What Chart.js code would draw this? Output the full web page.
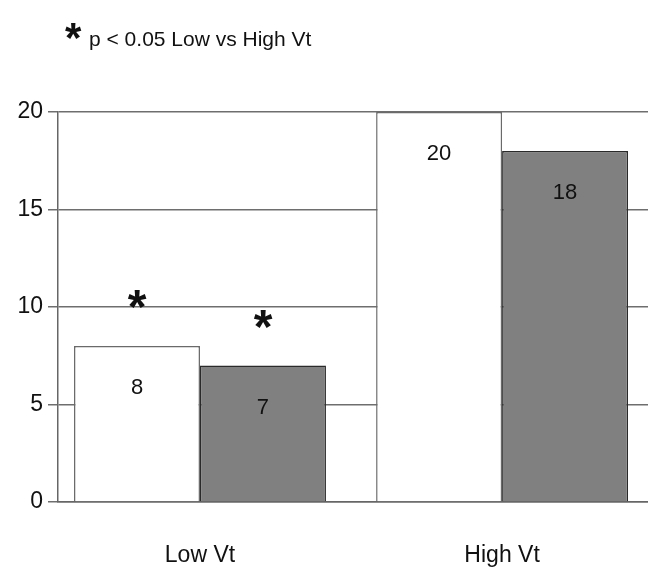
<!DOCTYPE html>
<html>
<head>
<meta charset="utf-8">
<script src="https://cdn.jsdelivr.net/npm/chart.js@4.4.1/dist/chart.umd.min.js"></script>
<style>
  html, body { margin: 0; padding: 0; background: #fff; }
  #wrap { width: 648px; height: 570px; }
</style>
</head>
<body>
<div id="wrap"><canvas id="vtChart" width="648" height="570"></canvas></div>
<script>
// --- dane wykresu ---
const categories = ['Low Vt', 'High Vt'];
const whiteValues = [8, 20];
const greyValues = [7, 18];
const whiteSignificant = [true, false];
const greySignificant = [true, false];
const yTicks = [0, 5, 10, 15, 20];
const noteText = 'p < 0.05 Low vs High Vt';

const FONT = '"Liberation Sans", Arial, Helvetica, sans-serif';

// pozycje kategorii na osi liczbowej (0, 1, ...)
const toPoints = vals => vals.map((v, i) => ({ x: i, y: v }));

// etykiety wartości w środku słupków + gwiazdki
const barLabels = {
    id: 'barLabels',
    afterDatasetsDraw(chart) {
        const ctx = chart.ctx;
        const sig = [whiteSignificant, greySignificant];
        ctx.save();
        chart.data.datasets.forEach((ds, di) => {
            chart.getDatasetMeta(di).data.forEach((bar, i) => {
                ctx.fillStyle = '#111';
                ctx.font = '22px ' + FONT;
                ctx.textAlign = 'center';
                ctx.textBaseline = 'middle';
                ctx.fillText(String(ds.data[i].y), bar.x, bar.y + 42);
                if (sig[di][i]) {
                    ctx.font = 'bold 48px ' + FONT;
                    ctx.textBaseline = 'alphabetic';
                    ctx.fillText('*', bar.x, bar.y - 50 + 27);
                }
            });
        });
        ctx.restore();
    }
};

// opis na górze
const noteLabel = {
    id: 'noteLabel',
    afterDraw(chart) {
        const ctx = chart.ctx;
        ctx.save();
        ctx.fillStyle = '#111';
        ctx.textBaseline = 'alphabetic';
        ctx.textAlign = 'left';
        ctx.font = 'bold 42px ' + FONT;
        ctx.fillText('*', 65, 52);
        ctx.font = '21px ' + FONT;
        ctx.fillText(noteText, 89, 46);
        ctx.restore();
    }
};

const ctx = document.getElementById('vtChart').getContext('2d');
new Chart(ctx, {
    type: 'bar',
    data: {
        datasets: [{
            data: toPoints(whiteValues),
            backgroundColor: '#ffffff',
            borderColor: '#6a6a6a',
            borderWidth: 1.5,
            categoryPercentage: 0.834,
            barPercentage: 1.0
        }, {
            data: toPoints(greyValues),
            backgroundColor: '#808080',
            borderColor: '#2a2a2a',
            borderWidth: 1.5,
            categoryPercentage: 0.834,
            barPercentage: 1.0
        }]
    },
    options: {
        responsive: false,
        animation: false,
        layout: { padding: { top: 112, right: 0, bottom: 0, left: 0 } },
        plugins: { legend: { display: false }, tooltip: { enabled: false } },
        scales: {
            x: {
                type: 'linear',
                offset: false,
                min: -0.47,
                max: categories.length - 1 + 0.483,
                afterBuildTicks(scale) { scale.ticks = categories.map((c, i) => ({ value: i })); },
                grid: { display: false, drawTicks: false, offset: false },
                border: { display: true, color: '#666', width: 1.5 },
                ticks: {
                    color: '#111',
                    font: { size: 23, family: FONT },
                    padding: 40,
                    callback: v => categories[v]
                },
                afterFit(scale) { scale.height = 68; }
            },
            y: {
                min: 0,
                max: 20,
                afterBuildTicks(scale) { scale.ticks = yTicks.map(v => ({ value: v })); },
                grid: { color: '#6e6e6e', lineWidth: 1.5, tickLength: 10 },
                border: { display: true, color: '#666', width: 1.5 },
                ticks: { color: '#111', font: { size: 23, family: FONT }, padding: 5 },
                afterFit(scale) { scale.width = 58; }
            }
        }
    },
    plugins: [barLabels, noteLabel]
});
</script>
</body>
</html>
